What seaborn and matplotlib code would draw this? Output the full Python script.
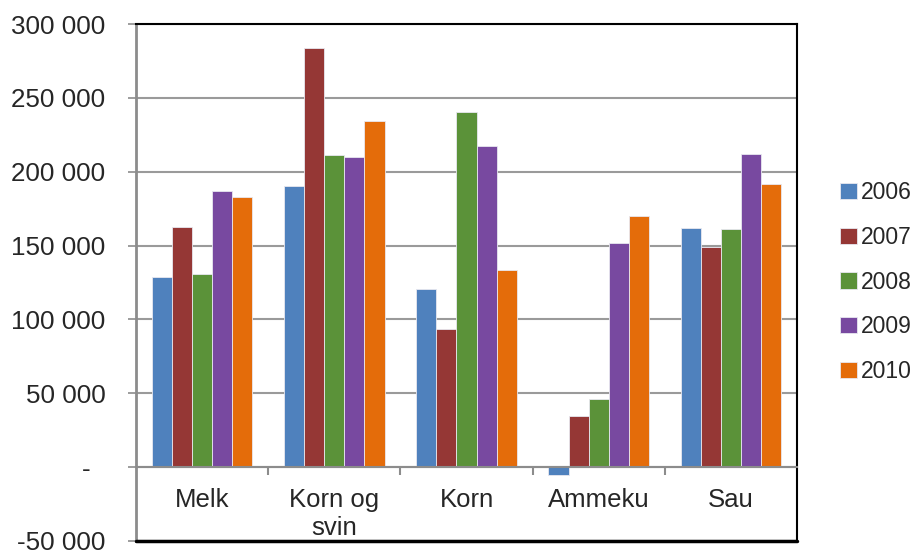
import matplotlib
matplotlib.use("Agg")
import matplotlib.pyplot as plt
from matplotlib.ticker import FixedLocator, FuncFormatter
import pandas as pd
import seaborn as sns

# Verdier lest av figuren (kroner)
kategorier = ["Melk", "Korn og\nsvin", "Korn", "Ammeku", "Sau"]
aar = ["2006", "2007", "2008", "2009", "2010"]
v2006 = [129000, 190000, 120500, -5500, 162000]
v2007 = [162500, 284000, 93800, 34800, 149000]
v2008 = [130500, 211000, 240500, 45800, 161500]
v2009 = [186800, 209800, 217300, 151500, 212300]
v2010 = [182800, 234300, 133800, 170300, 192000]
farger = ["#4F81BD", "#953735", "#5B9239", "#7849A0", "#E46C0A"]

serier = [v2006, v2007, v2008, v2009, v2010]
rader = []
for a, verdier in zip(aar, serier):
    for k, v in zip(kategorier, verdier):
        rader.append({"kategori": k, "aar": a, "verdi": v})
df = pd.DataFrame(rader)

sns.set_style("white")
plt.rcParams["font.family"] = ["Liberation Sans", "DejaVu Sans"]

fig = plt.figure(figsize=(9.21, 5.51), dpi=100)
ax = fig.add_axes([136 / 921, 10 / 551, 661 / 921, 517 / 551])

sns.barplot(data=df, x="kategori", y="verdi", hue="aar", palette=farger,
            width=0.76, saturation=1, edgecolor="#e8e8f0", linewidth=0.6,
            ax=ax, zorder=3)

ax.set_ylim(-50000, 300000)
ax.set_xlim(-0.5, 4.5)
ax.set_xlabel("")
ax.set_ylabel("")

def fmt(v, pos):
    if v == 0:
        return "-  "
    s = f"{abs(int(v)):,}".replace(",", " ")
    return ("-" if v < 0 else "") + s

ax.yaxis.set_major_locator(FixedLocator(range(-50000, 300001, 50000)))
ax.yaxis.set_major_formatter(FuncFormatter(fmt))
ax.tick_params(axis="y", which="major", left=True, length=6, width=1.2,
               color="#8c8c8c", labelsize=18.7, pad=16)
ax.yaxis.grid(True, color="#9a9a9a", linewidth=1.5, zorder=0)
ax.set_axisbelow(True)

# kategoriaksen ligger ved null
ax.spines["bottom"].set_position(("data", 0))
ax.spines["bottom"].set_color("#8c8c8c")
ax.spines["bottom"].set_linewidth(1.5)
ax.spines["bottom"].set_zorder(4)
ax.spines["left"].set_color("#8c8c8c")
ax.spines["left"].set_linewidth(2)
for s in ["top", "right"]:
    ax.spines[s].set_color("black")
    ax.spines[s].set_linewidth(1.5)
ax.axhline(-50000, color="black", linewidth=2.5, zorder=5, clip_on=False)

ax.tick_params(axis="x", which="major", length=0, labelsize=18.5, pad=15)
ax.xaxis.set_minor_locator(FixedLocator([0.5, 1.5, 2.5, 3.5]))
ax.tick_params(axis="x", which="minor", bottom=True, length=6, width=1.5,
               color="#8c8c8c")

ax.legend(loc="upper left", bbox_to_anchor=(840 / 921, 1 - 181 / 551),
          bbox_transform=fig.transFigure, frameon=False, fontsize=16.5,
          handlelength=0.72, handleheight=0.72, handletextpad=0.2,
          labelspacing=0.95, borderpad=0, borderaxespad=0)

fig.savefig("out.png", dpi=100)
plt.close(fig)
